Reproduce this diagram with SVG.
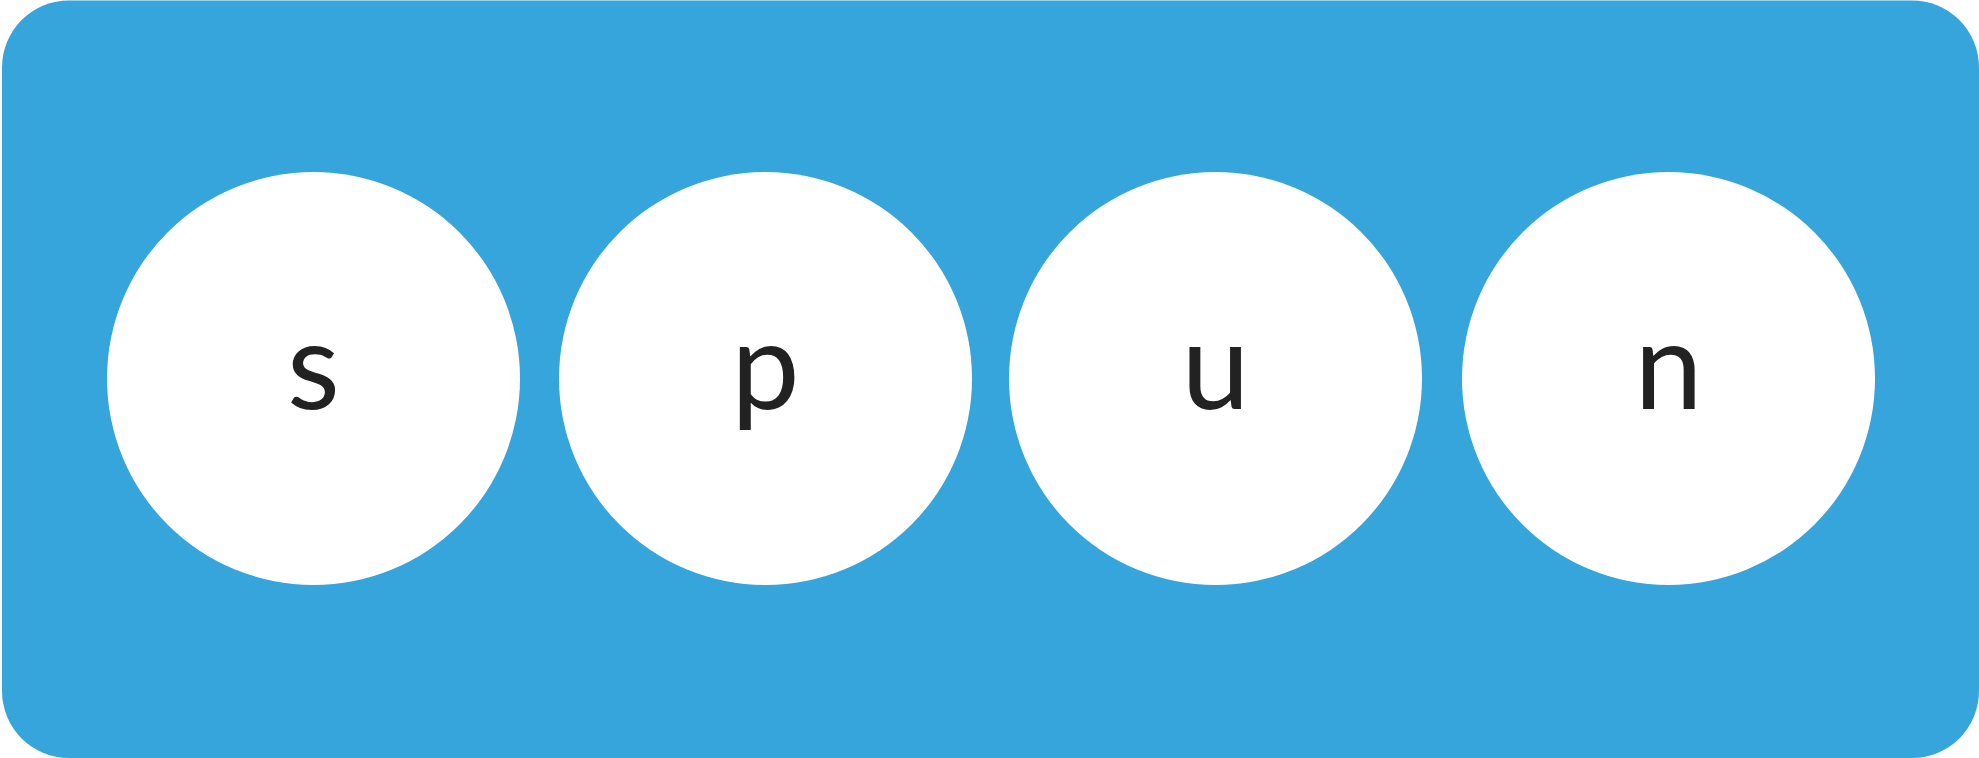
<svg xmlns="http://www.w3.org/2000/svg" width="1979" height="758" viewBox="0 0 1979 758">
  <style>
    .bg { fill: #35A5DB; }
    .node circle { fill: #FFFFFF; }
    .node text { font-family: Lato, "Liberation Sans", sans-serif; font-size: 122px; font-weight: 400; fill: #222222; text-anchor: middle; }
  </style>
  <rect class="bg" x="2" y="0.5" width="1977" height="757.5" rx="67" ry="67"/>
  <g id="connectors"></g>
  <g id="node-s" class="node">
    <circle cx="313.5" cy="378.5" r="206.5"/>
    <text x="313.5" y="408.5">s</text>
  </g>
  <g id="node-p" class="node">
    <circle cx="765.5" cy="378.5" r="206.5"/>
    <text x="765.5" y="408.5">p</text>
  </g>
  <g id="node-u" class="node">
    <circle cx="1215.5" cy="378.5" r="206.5"/>
    <text x="1215.5" y="408.5">u</text>
  </g>
  <g id="node-n" class="node">
    <circle cx="1668.5" cy="378.5" r="206.5"/>
    <text x="1668.5" y="408.5">n</text>
  </g>
</svg>
